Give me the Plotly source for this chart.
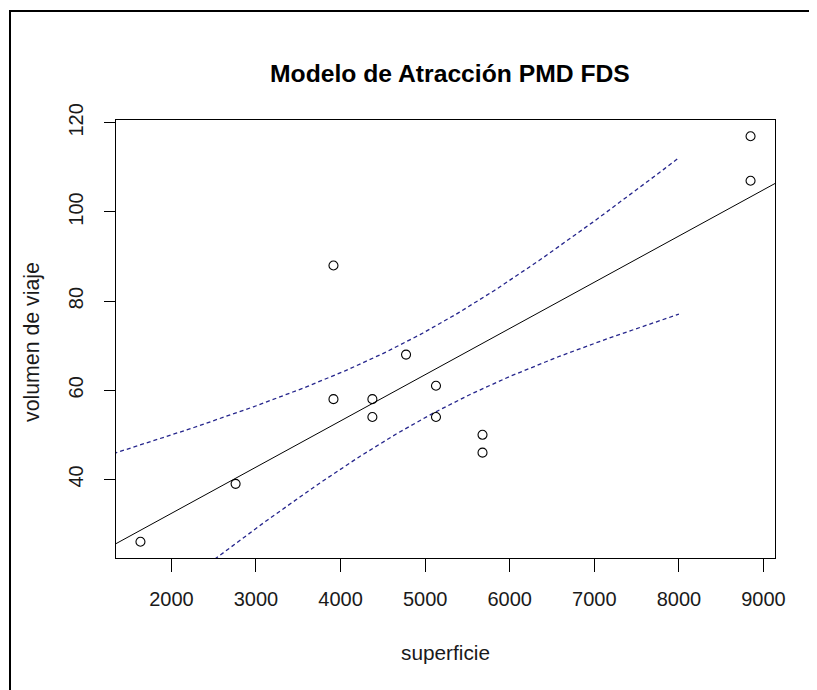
import numpy as np
import plotly.graph_objects as go

# ---- data ----
superficie = [1634, 2759, 3916, 3916, 4376, 4376, 4774, 5128, 5128, 5678, 5678, 8847, 8847]
volumen = [26, 39, 88, 58, 58, 54, 68, 61, 54, 50, 46, 117, 107]
x_ticks = [2000, 3000, 4000, 5000, 6000, 7000, 8000, 9000]
y_ticks = [40, 60, 80, 100, 120]
band_from, band_to = 1000, 8000
T_CRIT = 2.201  # t(0.975, df=11)

# ---- linear model + 95% confidence band ----
x = np.array(superficie, float)
y = np.array(volumen, float)
n = len(x)
b1, b0 = np.polyfit(x, y, 1)
res = y - (b0 + b1 * x)
s = np.sqrt(np.sum(res ** 2) / (n - 2))
sxx = np.sum((x - x.mean()) ** 2)
xb = np.linspace(band_from, band_to, 200)
fb = b0 + b1 * xb
hw = T_CRIT * s * np.sqrt(1 / n + (xb - x.mean()) ** 2 / sxx)
xl = np.array([0, 10000])

# ---- layout geometry (page pixels; page body has an 8px margin) ----
OFF = 8
W, H = 817 - OFF, 690 - OFF
L, R, T, B = 116, 775, 120, 558          # plot box in page pixels
PW, PH = R - L, B - T
def px(v): return (v - L) / PW
def py(v): return (B - v) / PH

FONT = "Liberation Sans, Arial, sans-serif"
band_col = "#25258c"

fig = go.Figure()
fig.add_trace(go.Scatter(x=xl, y=b0 + b1 * xl, mode="lines",
                         line=dict(color="black", width=1), hoverinfo="skip"))
fig.add_trace(go.Scatter(x=xb, y=fb + hw, mode="lines",
                         line=dict(color=band_col, width=1.3, dash="4px,3px")))
fig.add_trace(go.Scatter(x=xb, y=fb - hw, mode="lines",
                         line=dict(color=band_col, width=1.3, dash="4px,3px")))
fig.add_trace(go.Scatter(x=superficie, y=volumen, mode="markers",
                         marker=dict(symbol="circle-open", size=9,
                                     color="black", line=dict(width=1.1, color="black"))))

fig.update_layout(
    width=W, height=H, showlegend=False,
    paper_bgcolor="white", plot_bgcolor="white",
    margin=dict(l=L - OFF, r=(W + OFF) - R, t=T - OFF, b=(H + OFF) - B, pad=0),
    font=dict(family=FONT, color="#1a1a1a"),
    xaxis=dict(range=[1345, 9136], tickvals=x_ticks, ticks="outside", ticklen=13,
               tickwidth=1, tickcolor="black", showline=True, linecolor="black",
               linewidth=1, mirror=True, showgrid=False, zeroline=False,
               tickfont=dict(size=20, color="#1a1a1a"), ticklabelstandoff=10),
    yaxis=dict(range=[22.36, 120.64], tickvals=y_ticks, ticks="outside", ticklen=11,
               tickwidth=1, tickcolor="black", showline=True, linecolor="black",
               linewidth=1, mirror=True, showgrid=False, zeroline=False,
               tickangle=-90, tickfont=dict(size=20, color="#1a1a1a"),
               ticklabelstandoff=13),
    annotations=[
        dict(text="<b>Modelo de Atracción PMD FDS</b>", xref="paper", yref="paper",
             x=px(450), y=py(73), xanchor="center", yanchor="middle", showarrow=False,
             font=dict(size=24.7, color="black", family=FONT)),
        dict(text="volumen de viaje", xref="paper", yref="paper", textangle=-90,
             x=px(32), y=py(342), xanchor="center", yanchor="middle", showarrow=False,
             font=dict(size=21.3, color="#1a1a1a", family=FONT)),
        dict(text="superficie", xref="paper", yref="paper",
             x=px(445.5), y=py(652), xanchor="center", yanchor="middle", showarrow=False,
             font=dict(size=20.8, color="#1a1a1a", family=FONT)),
    ],
    shapes=[
        dict(type="line", xref="paper", yref="paper", x0=px(10), x1=px(10),
             y0=py(11), y1=py(690), line=dict(color="black", width=2)),
        dict(type="line", xref="paper", yref="paper", x0=px(9), x1=px(817),
             y0=py(11), y1=py(11), line=dict(color="black", width=2)),
    ],
)

fig.write_html(
    "out.html",
    config={"displayModeBar": False},
    post_script="document.documentElement.style.overflow='hidden';"
                "document.body.style.overflow='hidden';",
)
